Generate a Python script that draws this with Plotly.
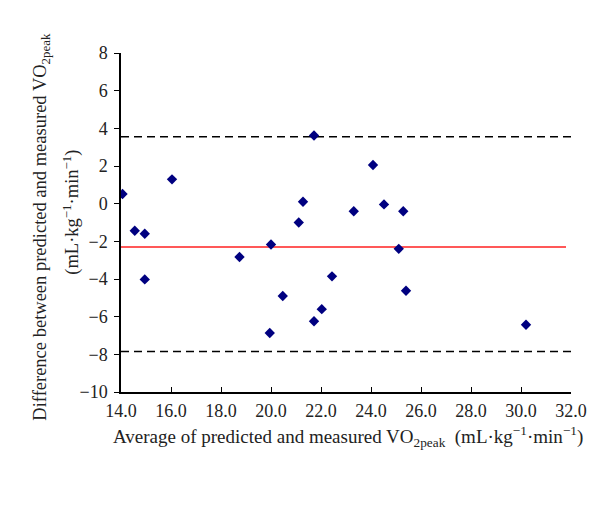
import plotly.graph_objects as go

# Data
avg_vo2 = [14.06, 14.55, 14.95, 14.95, 16.04, 18.74, 20.0, 21.11, 21.28, 21.72,
           22.44, 20.47, 19.95, 21.72, 22.03, 24.08, 23.31, 24.52, 25.29, 25.11,
           25.4, 30.2]
diff_vo2 = [0.51, -1.44, -1.60, -4.02, 1.29, -2.83, -2.17, -1.0, 0.10, 3.62,
            -3.86, -4.9, -6.87, -6.24, -5.6, 2.05, -0.4, -0.04, -0.4, -2.4,
            -4.62, -6.43]
mean_diff = -2.3
upper_loa = 3.55
lower_loa = -7.85
x_ticks = [14, 16, 18, 20, 22, 24, 26, 28, 30, 32]
y_ticks = [8, 6, 4, 2, 0, -2, -4, -6, -8, -10]

font_family = "Liberation Serif"

fig = go.Figure()

# Limits of agreement (dashed)
for val in (upper_loa, lower_loa):
    fig.add_trace(go.Scatter(x=[14, 32], y=[val, val], mode="lines",
                             line=dict(color="black", width=1.5, dash="8px,5px"),
                             hoverinfo="skip", showlegend=False))
# Mean difference (red)
fig.add_trace(go.Scatter(x=[14, 31.8], y=[mean_diff, mean_diff], mode="lines",
                         line=dict(color="#ff2020", width=1.5),
                         hoverinfo="skip", showlegend=False))
# Points
fig.add_trace(go.Scatter(x=avg_vo2, y=diff_vo2, mode="markers",
                         marker=dict(symbol="diamond", size=8, color="#000080"),
                         showlegend=False))

fig.update_layout(
    width=600, height=509,
    margin=dict(l=113, r=37, t=45, b=125),
    paper_bgcolor="white", plot_bgcolor="white",
    font=dict(family=font_family, size=18, color="#222"),
    xaxis=dict(range=[14, 32], tickvals=x_ticks, tickformat=".1f",
               showgrid=False, zeroline=False, showline=True,
               linecolor="black", linewidth=1.5,
               ticks="inside", ticklen=5, tickcolor="black", tickwidth=1.2,
               ticklabelstandoff=2,
               tickfont=dict(size=18, family=font_family)),
    yaxis=dict(range=[-10, 8], tickvals=y_ticks,
               showgrid=False, zeroline=False, showline=True,
               linecolor="black", linewidth=1.5,
               ticks="outside", ticklen=5, tickcolor="black", tickwidth=1.2,
               ticklabelstandoff=3,
               tickfont=dict(size=18, family=font_family)),
    annotations=[
        dict(text="Average of predicted and measured VO<sub>2peak</sub>  (mL·kg<sup>−1</sup>·min<sup>−1</sup>)",
             xref="paper", yref="paper", x=(340 - 113.3) / 450, y=(384 - 428) / 339,
             xanchor="center", yanchor="middle", showarrow=False,
             font=dict(size=19, family=font_family)),
        dict(text="Difference between predicted and measured VO<sub>2peak</sub>",
             xref="paper", yref="paper", x=(33 - 113.3) / 450, y=(384 - 219) / 339,
             xanchor="center", yanchor="middle", textangle=-90, showarrow=False,
             font=dict(size=18.5, family=font_family)),
        dict(text="(mL·kg<sup>−1</sup>·min<sup>−1</sup>)",
             xref="paper", yref="paper", x=(64 - 113.3) / 450, y=(384 - 204) / 339,
             xanchor="center", yanchor="middle", textangle=-90, showarrow=False,
             font=dict(size=18.5, family=font_family)),
    ],
)

fig.write_html("out.html")
